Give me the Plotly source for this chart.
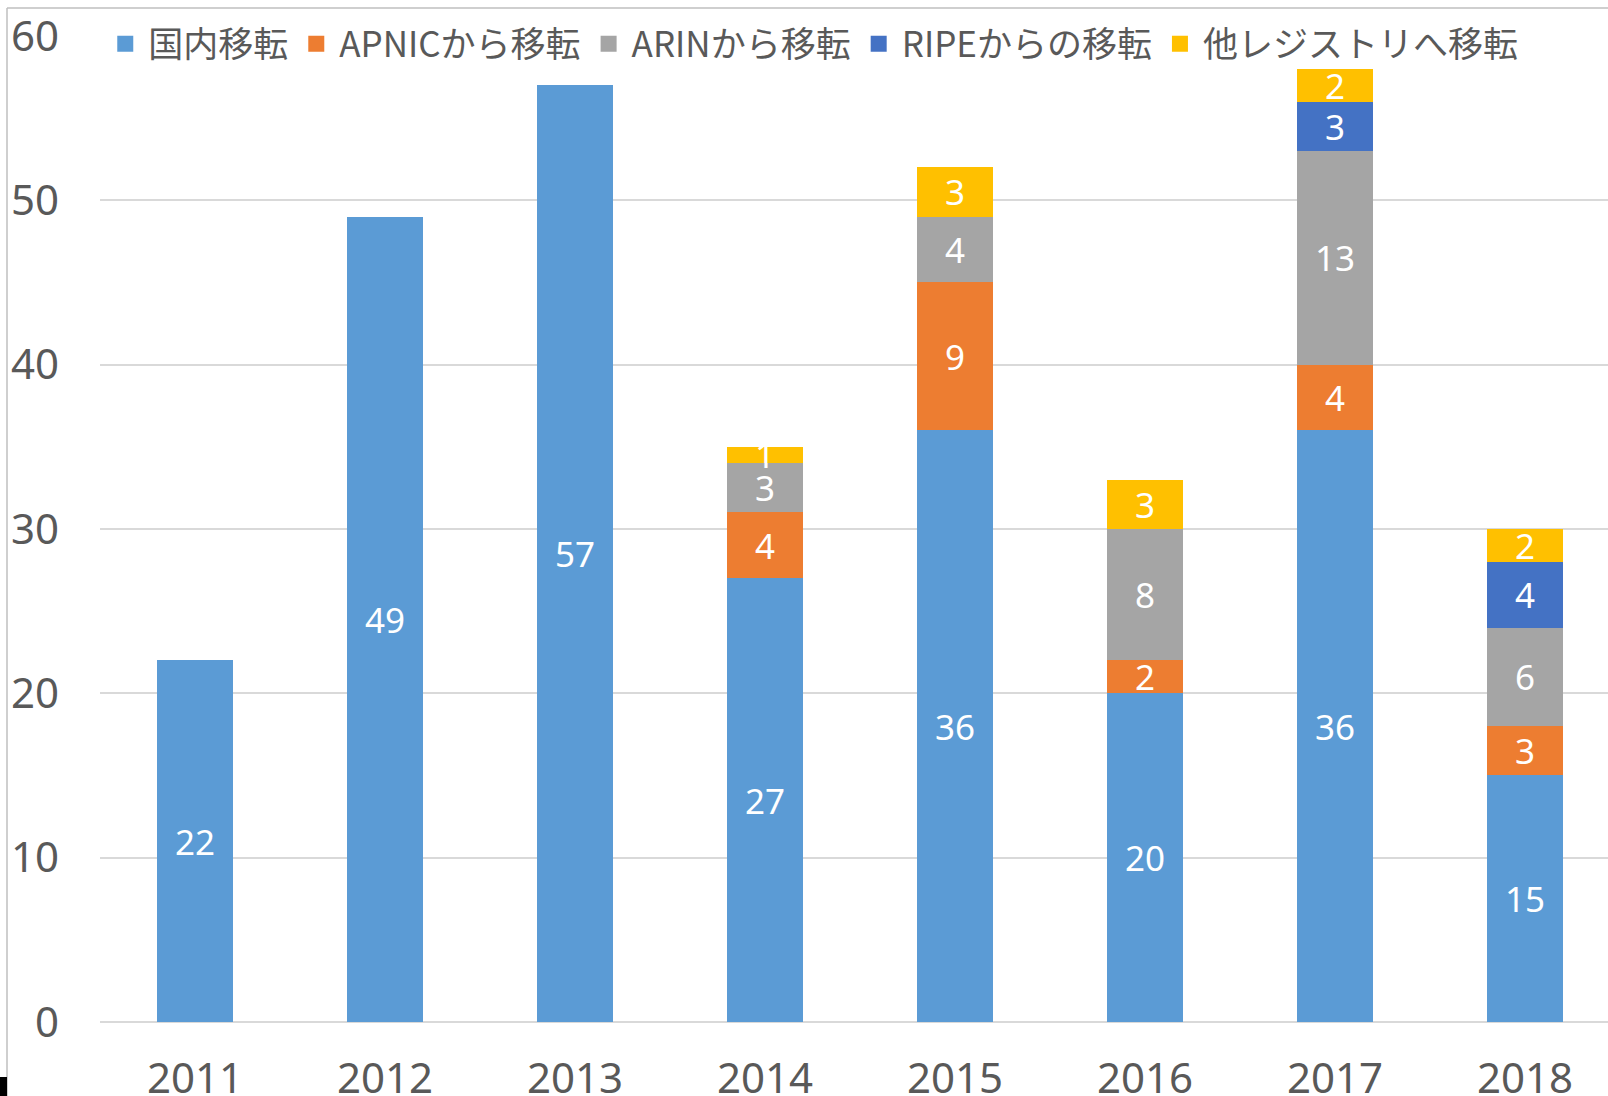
import plotly.graph_objects as go

# values (None = no segment)
years = ["2011", "2012", "2013", "2014", "2015", "2016", "2017", "2018"]
domestic = [22, 49, 57, 27, 36, 20, 36, 15]
from_apnic = [None, None, None, 4, 9, 2, 4, 3]
from_arin = [None, None, None, 3, 4, 8, 13, 6]
from_ripe = [None, None, None, None, None, None, 3, 4]
to_other = [None, None, None, 1, 3, 3, 2, 2]

series = [
    ("国内移転", domestic, "#5B9BD5"),
    ("APNICから移転", from_apnic, "#ED7D31"),
    ("ARINから移転", from_arin, "#A5A5A5"),
    ("RIPEからの移転", from_ripe, "#4472C4"),
    ("他レジストリへ移転", to_other, "#FFC000"),
]

fig = go.Figure()
for name, vals, col in series:
    fig.add_trace(go.Bar(
        x=years, y=vals, name=name, marker_color=col, marker_line_width=0,
        text=vals, texttemplate="%{y}", textposition="inside", textangle=0,
        insidetextanchor="middle", constraintext="none",
        textfont=dict(family="Noto Sans", size=35, color="white"),
        showlegend=False, legendgroup=name,
    ))
    # legend entry with a bigger square than the bar default
    fig.add_trace(go.Scatter(
        x=[None], y=[None], mode="markers", name=name, legendgroup=name,
        marker=dict(symbol="square", size=16, color=col),
    ))

grey = "#595959"
fig.update_layout(
    barmode="stack", bargap=0.595,
    width=1608, height=1096,
    margin=dict(l=100, r=0, t=35, b=74),
    plot_bgcolor="white", paper_bgcolor="white",
    showlegend=True,
    legend=dict(orientation="h", x=0.0015, xanchor="left", y=0.991, yanchor="middle",
                bgcolor="rgba(255,255,255,0)", traceorder="normal", itemsizing="trace",
                itemwidth=36,
                font=dict(family="Noto Sans CJK JP", size=35, color=grey)),
    xaxis=dict(range=[-0.5, 7.437], showgrid=False, showline=False, ticks="",
               automargin=False, ticklabeloverflow="allow",
               tickfont=dict(family="Noto Sans", size=42, color=grey),
               ticklabelstandoff=28),
    yaxis=dict(range=[0, 60.05], tickvals=[0, 10, 20, 30, 40, 50, 60],
               showgrid=True, gridcolor="#d9d9d9", gridwidth=1.5,
               zeroline=True, zerolinecolor="#d9d9d9", zerolinewidth=1.5,
               showline=False, ticks="", automargin=False, ticklabeloverflow="allow",
               tickfont=dict(family="Noto Sans", size=42, color=grey),
               ticklabelstandoff=40),
)

# chart-area frame from the screenshot (left and top edges) + the corner blot
px_w, px_h = 1508, 987
def pxx(x):
    return (x - 100) / px_w
def pxy(y):
    return (1022 - y) / px_h
fig.add_shape(type="line", xref="paper", yref="paper", x0=pxx(7), x1=pxx(7),
              y0=pxy(8), y1=pxy(1096), line=dict(color="#bfbfbf", width=1.5))
fig.add_shape(type="line", xref="paper", yref="paper", x0=pxx(7), x1=pxx(1608),
              y0=pxy(8), y1=pxy(8), line=dict(color="#bfbfbf", width=1.5))
fig.add_shape(type="rect", xref="paper", yref="paper", x0=pxx(0), x1=pxx(7),
              y0=pxy(1077), y1=pxy(1096), fillcolor="black", line_width=0)

# drop the browser's default 8px body margin so the figure sits at the page corner
fig.write_html("out.html", config={"displayModeBar": False},
               post_script="document.body.style.margin='0';document.body.style.overflow='hidden';")
